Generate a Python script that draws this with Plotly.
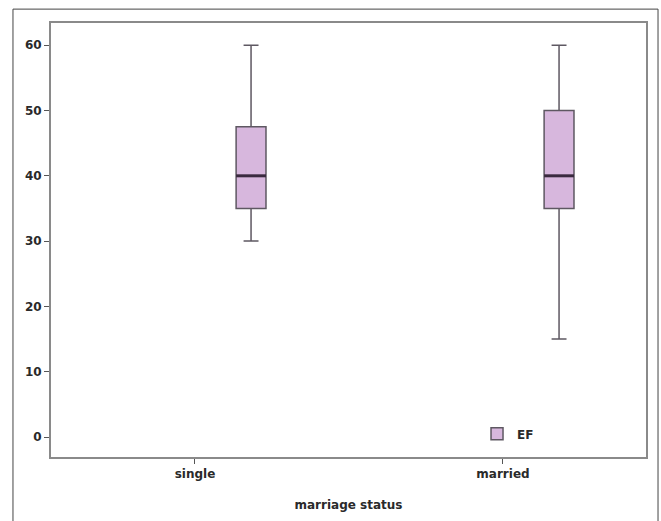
import plotly.graph_objects as go

categories = ["single", "married"]
lower_whisker = [30, 15]
q1 = [35, 35]
median = [40, 40]
q3 = [47.5, 50]
upper_whisker = [60, 60]
series_name = "EF"
y_ticks = [0, 10, 20, 30, 40, 50, 60]

cat_index = list(range(len(categories)))
box_offset = 0.182
box_width = 0.097
positions = [i + box_offset for i in cat_index]

fill = "#D7B7DD"
line_col = "#5e5862"

fig = go.Figure()
fig.add_trace(go.Box(
    x=positions, q1=q1, median=median, q3=q3,
    lowerfence=lower_whisker, upperfence=upper_whisker,
    name=series_name, fillcolor=fill,
    line=dict(color=line_col, width=1.5),
    width=box_width, whiskerwidth=0.5, boxpoints=False,
    showlegend=True,
))
for p, m in zip(positions, median):
    fig.add_trace(go.Scatter(
        x=[p - box_width / 2, p + box_width / 2], y=[m, m],
        mode="lines", line=dict(color="#3a2a3f", width=3),
        showlegend=False, hoverinfo="skip",
    ))

# outer frame
fig.add_shape(type="rect", xref="paper", yref="paper",
              x0=-0.0639, x1=1.0202, y0=-0.2, y1=1.032,
              line=dict(color="#444444", width=1), fillcolor="rgba(0,0,0,0)",
              layer="below")

font_b = dict(family="DejaVu Sans, Verdana, sans-serif", size=12, color="#2a2a2a", weight="bold")

fig.update_layout(
    width=661, height=521,
    margin=dict(l=51, r=15, t=23, b=64),
    paper_bgcolor="white", plot_bgcolor="white",
    showlegend=True,
    legend=dict(x=0.716, y=0.02, xanchor="left", yanchor="bottom",
                font=font_b, bgcolor="rgba(0,0,0,0)",
                itemwidth=30, tracegroupgap=0),
    xaxis=dict(range=[-0.4675, 1.4643], tickvals=cat_index, ticktext=categories,
               showgrid=False, zeroline=False, showline=True, mirror=True,
               linecolor="#8a8a8a", linewidth=2, ticks="outside", ticklen=5,
               tickcolor="#555555", tickwidth=1, tickfont=font_b,
               title=dict(text="marriage status", font=font_b, standoff=20)),
    yaxis=dict(range=[-3.06, 63.4], tickvals=y_ticks,
               showgrid=False, zeroline=False, showline=True, mirror=True,
               linecolor="#8a8a8a", linewidth=2, ticks="outside", ticklen=5,
               tickcolor="#555555", tickwidth=1, tickfont=font_b),
)

fig.write_html("out.html",
               config={"displayModeBar": False},
               post_script="document.body.style.margin='0';document.body.style.overflow='hidden';")
